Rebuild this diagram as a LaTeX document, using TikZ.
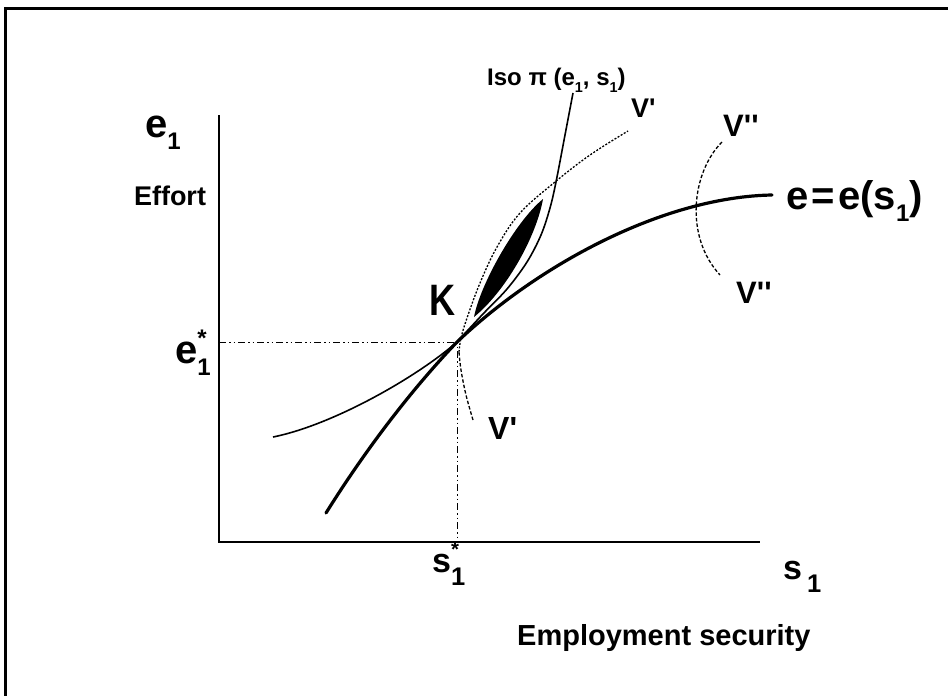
\documentclass[tikz,border=0pt]{standalone}
\usepackage{fontspec}
\setmainfont{Liberation Sans}
\newcommand\lsub[1]{\raisebox{-0.32em}{\scalebox{0.6}{#1}}}
\newcommand\bsub[1]{\raisebox{-0.4em}{\scalebox{0.75}{#1}}}
\newcommand\lsupsub[2]{\rlap{\raisebox{0.42em}{\scalebox{0.6}{#1}}}\raisebox{-0.32em}{\scalebox{0.6}{#2}}}
\newcommand\bsupsub[2]{\rlap{\raisebox{0.45em}{\scalebox{0.6}{#1}}}\raisebox{-0.4em}{\scalebox{0.75}{#2}}}
\newcommand\fs[1]{\fontsize{#1}{#1}\selectfont\bfseries}
\newcommand\pr{\textquotesingle}
\begin{document}
\begin{tikzpicture}[x=1pt,y=-1pt,
  lbl/.style={inner sep=0pt,anchor=base west},
  axisline/.style={line width=1.5pt},
  guide/.style={line width=1pt,dash pattern=on 7pt off 3pt on 1.5pt off 3pt on 1.5pt off 3pt},
  effcurve/.style={line width=3.2pt,line cap=round},
  isocurve/.style={line width=1.6pt},
  vdot/.style={line width=1.3pt,dash pattern=on 2pt off 1.6pt},
  vdash/.style={line width=1.3pt,dash pattern=on 3.5pt off 2pt}]
\useasboundingbox (0,0) rectangle (948,696);
% frame
\draw[line width=3pt] (5,696) -- (5,8) -- (948,8);
% axes
\coordinate (O) at (219,542);
\coordinate (Ytop) at (219,115);
\coordinate (Xend) at (760,542);
\draw[axisline] (Ytop) -- (O) -- (Xend);
% K point
\coordinate (K) at (457,342);
\coordinate (Ke) at (219,342);
\coordinate (Ks) at (457,542);
\draw[guide] (Ke) -- (K) -- (Ks);
% lens
\fill (474,317) .. controls (480,285) and (515,222) .. (543,199)
      .. controls (536,238) and (505,292) .. (474,317) -- cycle;
% iso pi curve
\draw[isocurve] (273,437) .. controls (333,425) and (417,377) .. (K);
\draw[isocurve] plot[smooth,tension=0.55] coordinates {(457,342) (482,315) (507,289) (527,262) (541,235) (550,208) (556,182) (565,135) (573,93)};
% effort curve
\draw[effcurve] (326,513) .. controls (366,449) and (412,389) .. (K)
   .. controls (537,266) and (662,197) .. (772,195);
% V' curve
\draw[vdash] plot[smooth,tension=0.6] coordinates {(473,420) (466,395) (461,370) (459,352)};
\draw[vdot] plot[smooth,tension=0.6] coordinates {(459,352) (461,338) (467,318) (480,283) (497,247) (520,213) (555,182) (590,155) (628,131)};
% V'' curve
\draw[vdash] (722,142) .. controls (692,172) and (684,236) .. (720,275);
% labels
\node[lbl] (le1) at (145,137) {\fs{40}e\lsub{1}};
\node[lbl,anchor=center] (leff) at (170,196) {\fs{27}Effort};
\node[lbl] (lestar) at (175,363) {\fs{40}e\lsupsub{*}{1}};
\node[lbl] (lK) at (429,315) {\scalebox{0.82}[1]{\fs{44}K}};
\node[lbl] (liso) at (487,85) {\fs{24}Iso π (e\lsub{1}, s\lsub{1})};
\node[lbl] (lv1) at (631,117) {\fs{27}V\pr};
\node[lbl] (lv2a) at (723,136) {\fs{31}V\pr\pr};
\node[lbl] (lv2b) at (736,303) {\fs{31}V\pr\pr};
\node[lbl] (lv1b) at (488,439) {\fs{32}V\pr};
\node[lbl] (lee) at (786,209) {\fs{40}e\hspace{0.08em}=\hspace{0.08em}e(s\lsub{1})};
\node[lbl] (lsstar) at (432,572) {\fs{34}s\bsupsub{*}{1}};
\node[lbl] (ls1) at (783,579) {\fs{34}s\hspace{0.15em}\bsub{1}};
\node[lbl] (lemp) at (517,645) {\fs{29}Employment security};
\end{tikzpicture}
\end{document}
